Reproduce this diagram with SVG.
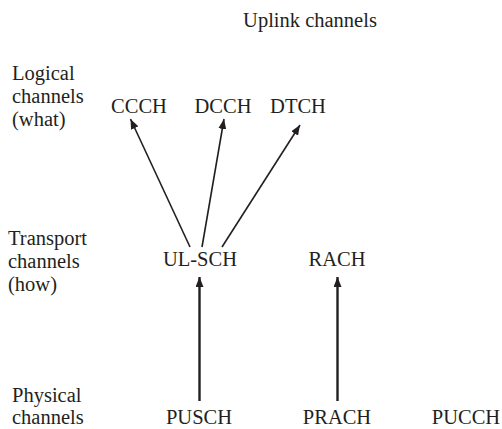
<svg xmlns="http://www.w3.org/2000/svg" width="502" height="429" viewBox="0 0 502 429">
<style>
text{font-family:'Liberation Serif','Times New Roman',Times,serif;font-size:20.5px;fill:#231f20}
.c{text-anchor:middle}
.ln{stroke:#231f20;stroke-width:1.6;fill:none}
.lv{stroke:#231f20;stroke-width:2.4;fill:none}
</style>
<defs>
<marker id="ah" viewBox="0 0 10 8" refX="10" refY="4" markerWidth="10" markerHeight="8" markerUnits="userSpaceOnUse" orient="auto">
<path d="M0,0 L10,4 L0,8 Z" fill="#231f20"/>
</marker>
</defs>
<rect width="502" height="429" fill="#fff"/>
<g font-family="Liberation Serif, serif">
<text x="310" y="27" class="c">Uplink channels</text>
<g id="labels">
<text x="12" y="80">Logical</text>
<text x="12" y="103">channels</text>
<text x="12" y="126">(what)</text>
<text x="8" y="245">Transport</text>
<text x="8" y="268">channels</text>
<text x="8" y="291">(how)</text>
<text x="12" y="402">Physical</text>
<text x="12" y="424">channels</text>
</g>
<g id="ccch"><text x="139" y="113" class="c">CCCH</text></g>
<g id="dcch"><text x="223" y="113" class="c">DCCH</text></g>
<g id="dtch"><text x="298" y="113" class="c">DTCH</text></g>
<g id="ulsch"><text x="200" y="266" class="c">UL-SCH</text></g>
<g id="rach"><text x="337" y="266" class="c">RACH</text></g>
<g id="pusch"><text x="199" y="424" class="c">PUSCH</text></g>
<g id="prach"><text x="337" y="424" class="c">PRACH</text></g>
<g id="pucch"><text x="466" y="424" class="c">PUCCH</text></g>
</g>
<g id="connectors">
<line class="ln" x1="190" y1="247" x2="130.5" y2="119" marker-end="url(#ah)"/>
<line class="ln" x1="202" y1="247" x2="224" y2="119" marker-end="url(#ah)"/>
<line class="ln" x1="222" y1="247" x2="300" y2="125" marker-end="url(#ah)"/>
<line class="lv" x1="199.5" y1="401" x2="199.5" y2="277" marker-end="url(#ah)"/>
<line class="lv" x1="337.5" y1="401" x2="337.5" y2="277" marker-end="url(#ah)"/>
</g>
</svg>
